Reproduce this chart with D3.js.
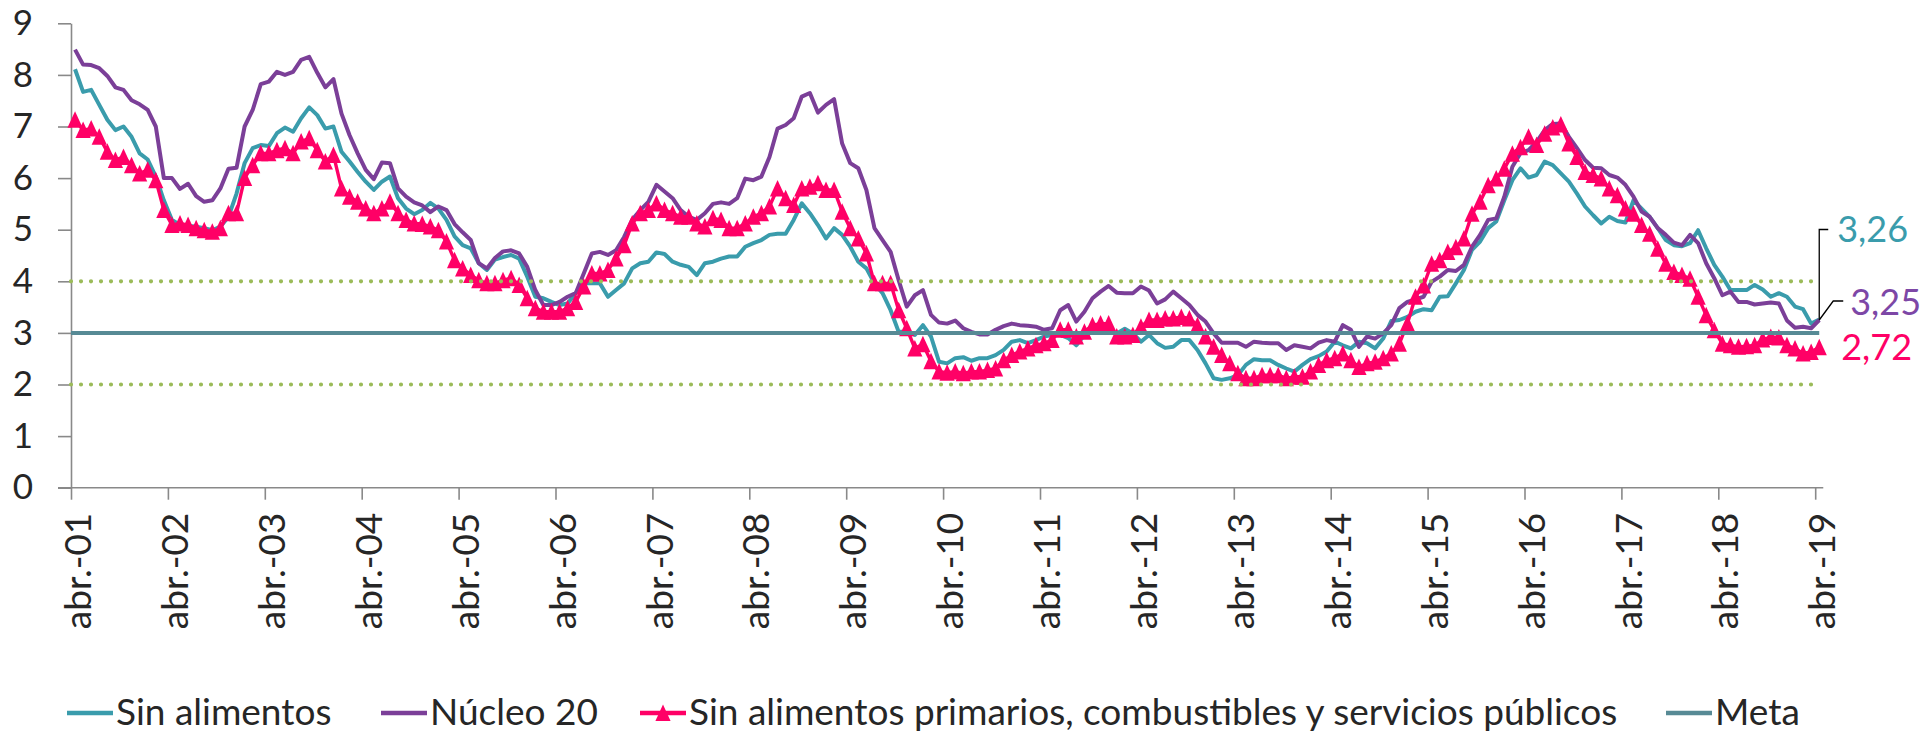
<!DOCTYPE html>
<html>
<head>
<meta charset="utf-8">
<title>inflacion basica</title>
<script src="https://cdnjs.cloudflare.com/ajax/libs/d3/7.8.5/d3.min.js"></script>
<style>
  body { margin: 0; background: #fff; }
  svg { display: block; }
</style>
</head>
<body>
<script>
// etiquetas del eje x (una cada 12 meses, abr-01 ... abr-19)
var tickLabels = ["abr.-01","abr.-02","abr.-03","abr.-04","abr.-05","abr.-06","abr.-07","abr.-08","abr.-09","abr.-10",
                  "abr.-11","abr.-12","abr.-13","abr.-14","abr.-15","abr.-16","abr.-17","abr.-18","abr.-19"]

var sinAlimentos = [
  8.11,7.67,7.71,7.42,7.13,6.93,7.00,6.80,6.48,6.36,6.03,5.57,
  5.19,5.09,5.07,5.06,5.03,4.99,5.06,5.25,5.70,6.29,6.58,6.64,
  6.62,6.87,6.98,6.90,7.16,7.37,7.22,6.96,7.00,6.51,6.32,6.12,
  5.93,5.77,5.93,6.03,5.61,5.41,5.30,5.38,5.52,5.41,5.19,4.87,
  4.70,4.64,4.35,4.22,4.42,4.47,4.51,4.44,4.09,3.70,3.67,3.60,
  3.54,3.57,3.77,3.96,3.96,3.96,3.70,3.83,3.96,4.25,4.35,4.38,
  4.56,4.53,4.38,4.32,4.28,4.12,4.35,4.38,4.44,4.48,4.48,4.67,
  4.74,4.80,4.90,4.92,4.92,5.19,5.51,5.32,5.09,4.83,5.03,4.90,
  4.67,4.38,4.25,3.96,3.77,3.44,3.02,3.02,2.96,3.15,2.93,2.44,
  2.41,2.51,2.53,2.46,2.51,2.51,2.57,2.67,2.83,2.86,2.80,2.86,
  2.93,2.96,2.96,2.90,2.76,2.96,3.06,3.06,3.02,2.99,3.08,2.99,
  2.83,2.96,2.80,2.71,2.73,2.86,2.86,2.67,2.41,2.12,2.09,2.12,
  2.18,2.38,2.49,2.47,2.47,2.38,2.31,2.25,2.38,2.49,2.55,2.64,
  2.83,2.76,2.70,2.83,2.80,2.70,2.89,3.23,3.25,3.31,3.41,3.46,
  3.44,3.70,3.71,3.96,4.22,4.61,4.77,5.03,5.16,5.57,5.96,6.19,
  6.01,6.06,6.32,6.25,6.09,5.93,5.70,5.45,5.28,5.12,5.25,5.17,
  5.14,5.57,5.41,5.25,5.03,4.80,4.70,4.68,4.74,4.99,4.64,4.32,
  4.09,3.83,3.83,3.83,3.93,3.84,3.70,3.77,3.70,3.51,3.46,3.18,
  3.26]

var nucleo20 = [
  8.49,8.20,8.19,8.13,7.98,7.76,7.71,7.51,7.43,7.32,7.00,6.00,
  6.00,5.79,5.89,5.65,5.54,5.57,5.80,6.18,6.20,7.00,7.32,7.82,
  7.87,8.06,8.00,8.06,8.29,8.35,8.04,7.76,7.92,7.25,6.83,6.48,
  6.16,5.98,6.30,6.29,5.80,5.64,5.53,5.47,5.34,5.45,5.38,5.11,
  4.95,4.80,4.35,4.25,4.45,4.58,4.60,4.54,4.28,3.83,3.54,3.54,
  3.60,3.70,3.77,4.15,4.54,4.57,4.51,4.60,4.86,5.19,5.38,5.54,
  5.87,5.74,5.61,5.38,5.25,5.19,5.32,5.50,5.53,5.50,5.61,5.99,
  5.96,6.03,6.41,6.96,7.03,7.16,7.58,7.65,7.27,7.42,7.53,6.67,
  6.29,6.19,5.77,5.03,4.80,4.57,4.02,3.51,3.73,3.83,3.35,3.20,
  3.18,3.24,3.09,3.02,2.97,2.97,3.06,3.13,3.18,3.15,3.14,3.12,
  3.06,3.09,3.44,3.54,3.22,3.41,3.67,3.80,3.91,3.78,3.77,3.77,
  3.90,3.82,3.57,3.65,3.80,3.67,3.54,3.35,3.22,2.99,2.81,2.81,
  2.81,2.73,2.83,2.81,2.80,2.80,2.67,2.76,2.73,2.70,2.81,2.86,
  2.83,3.15,3.06,2.73,2.93,2.89,2.99,3.15,3.48,3.60,3.65,3.70,
  3.99,4.09,4.22,4.20,4.32,4.67,4.90,5.19,5.22,5.64,6.22,6.48,
  6.54,6.70,6.93,7.05,7.06,6.80,6.58,6.35,6.20,6.19,6.06,6.01,
  5.87,5.64,5.35,5.25,5.03,4.90,4.75,4.70,4.90,4.74,4.35,4.06,
  3.73,3.80,3.60,3.60,3.55,3.57,3.59,3.57,3.24,3.10,3.12,3.09,
  3.25]

var sinPrimarios = [
  7.13,6.93,6.96,6.80,6.51,6.35,6.41,6.25,6.09,6.16,5.96,5.38,
  5.09,5.12,5.09,5.03,4.99,4.96,5.03,5.32,5.32,6.00,6.25,6.48,
  6.48,6.54,6.58,6.48,6.71,6.77,6.54,6.32,6.45,5.80,5.64,5.54,
  5.41,5.32,5.41,5.54,5.32,5.19,5.12,5.11,5.06,4.99,4.77,4.41,
  4.25,4.12,4.02,3.96,3.96,4.02,4.06,3.93,3.67,3.48,3.41,3.41,
  3.41,3.48,3.60,3.90,4.15,4.15,4.22,4.44,4.70,5.12,5.32,5.38,
  5.51,5.38,5.32,5.25,5.25,5.12,5.06,5.22,5.19,5.03,5.03,5.12,
  5.25,5.32,5.45,5.80,5.61,5.48,5.80,5.83,5.90,5.77,5.77,5.35,
  5.03,4.83,4.54,3.96,3.96,3.96,3.44,3.09,2.70,2.78,2.45,2.25,
  2.23,2.25,2.22,2.25,2.25,2.28,2.31,2.47,2.57,2.64,2.70,2.76,
  2.80,2.86,3.06,3.06,2.93,3.02,3.15,3.18,3.18,2.93,2.93,2.96,
  3.12,3.25,3.25,3.28,3.28,3.31,3.28,3.15,2.93,2.73,2.57,2.41,
  2.22,2.12,2.12,2.18,2.18,2.18,2.12,2.15,2.15,2.25,2.38,2.47,
  2.51,2.60,2.47,2.34,2.41,2.44,2.51,2.60,2.79,3.18,3.70,3.92,
  4.34,4.41,4.57,4.66,4.83,5.31,5.54,5.86,5.99,6.18,6.47,6.60,
  6.80,6.64,6.86,6.98,7.04,6.67,6.41,6.12,6.06,5.99,5.80,5.67,
  5.41,5.31,5.09,4.92,4.63,4.34,4.18,4.12,4.05,3.70,3.34,3.05,
  2.79,2.76,2.73,2.74,2.76,2.87,2.92,2.91,2.76,2.70,2.60,2.63,
  2.72]

var meta = 3
var rango = [2, 4]
var serieNames = ["Sin alimentos", "Núcleo 20", "Sin alimentos primarios, combustibles y servicios públicos", "Meta"]

var w = 1924
var h = 735
var colTeal = "#3a9cac", colPurple = "#7b3f98", colPink = "#ff0066", colMeta = "#578a95", colGreen = "#9bbb59"
var textCol = "#262626", axisCol = "#898989"

var svg = d3.select("body").append("svg").attr("width", w).attr("height", h)

var n = nucleo20.length
var step = 8.075
var xScale = d3.scaleLinear().domain([0, n]).range([71, 71 + n * step])
var yScale = d3.scaleLinear().domain([0, 9]).range([487.7, 23.3])

// ejes
var yAxis = d3.axisLeft(yScale).ticks(9).tickSize(13).tickSizeOuter(0).tickPadding(25)
var gy = svg.append("g").attr("transform", "translate(71,0)").call(yAxis)
gy.selectAll("path,line").attr("stroke", axisCol).attr("stroke-width", 1.6)
gy.selectAll("text").attr("font-family", "Lato, 'Open Sans', sans-serif").attr("font-size", 35).attr("fill", textCol)

var xAxis = d3.axisBottom(xScale)
    .tickValues(d3.range(0, n, 12))
    .tickSize(12)
    .tickSizeOuter(0)
    .tickFormat(function(d, i) { return tickLabels[i] })
var gx = svg.append("g").attr("transform", "translate(0," + yScale(0) + ")").call(xAxis)
gx.select(".domain").attr("d", "M" + (71 - 13) + ",0H" + xScale(n))
gx.selectAll("path,line").attr("stroke", axisCol).attr("stroke-width", 1.6)
gx.selectAll("text")
    .attr("transform", "rotate(-90)")
    .attr("text-anchor", "end")
    .attr("x", -25)
    .attr("y", 0)
    .attr("dy", "0.53em")
    .attr("font-family", "Lato, sans-serif")
    .attr("font-size", 37)
    .attr("fill", textCol)

var line = d3.line()
    .x(function(d, i) { return xScale(i + 0.5) })
    .y(function(d) { return yScale(d) })

svg.append("path").datum(sinAlimentos).attr("d", line)
    .attr("fill", "none").attr("stroke", colTeal).attr("stroke-width", 4).attr("stroke-linejoin", "round")
svg.append("path").datum(nucleo20).attr("d", line)
    .attr("fill", "none").attr("stroke", colPurple).attr("stroke-width", 4).attr("stroke-linejoin", "round")
svg.append("path").datum(sinPrimarios).attr("d", line)
    .attr("fill", "none").attr("stroke", colPink).attr("stroke-width", 3.4).attr("stroke-linejoin", "round")

var tri = "M0,-8.5L7.6,8L-7.6,8Z"
svg.selectAll(".tri")
    .data(sinPrimarios)
    .enter()
    .append("path")
    .attr("class", "tri")
    .attr("d", tri)
    .attr("transform", function(d, i) { return "translate(" + xScale(i + 0.5) + "," + yScale(d) + ")" })
    .attr("fill", colPink)

// rango meta (lineas punteadas) y meta
var flat = d3.line().x(function(d) { return xScale(d[0]) }).y(function(d) { return yScale(d[1]) })
rango.forEach(function(v) {
  svg.append("path").datum([[0, v], [n - 0.5, v]]).attr("d", flat)
    .attr("stroke", colGreen).attr("stroke-width", 4.2).attr("stroke-linecap", "round")
    .attr("stroke-dasharray", "0,10").attr("fill", "none")
})
svg.append("path").datum([[0, meta], [n - 0.5, meta]]).attr("d", flat)
    .attr("stroke", colMeta).attr("stroke-width", 4).attr("fill", "none")

// etiquetas del ultimo dato
function fmt(v) { return d3.format(".2f")(v).replace(".", ",") }
var xl = xScale(n - 0.5)
var yA = yScale(sinAlimentos[n - 1]), yN = yScale(nucleo20[n - 1]), yP = yScale(sinPrimarios[n - 1])

svg.append("path").attr("d", "M" + xl + "," + yA + "V" + (yA - 90) + "H" + (xl + 9))
    .attr("stroke", "#000").attr("stroke-width", 1.3).attr("fill", "none")
svg.append("path").attr("d", "M" + xl + "," + yN + "L" + (xl + 14) + "," + (yN - 19) + "H" + (xl + 24))
    .attr("stroke", "#000").attr("stroke-width", 1.3).attr("fill", "none")

var endLabels = [
  { t: fmt(sinAlimentos[n - 1]), x: xl + 18, y: yA - 77, c: colTeal },
  { t: fmt(nucleo20[n - 1]), x: xl + 31, y: yN - 5, c: "#7d47a6" },
  { t: fmt(sinPrimarios[n - 1]), x: xl + 22, y: yP + 13, c: colPink }
]
svg.selectAll(".endlab")
    .data(endLabels)
    .enter()
    .append("text")
    .attr("x", function(d) { return d.x })
    .attr("y", function(d) { return d.y })
    .text(function(d) { return d.t })
    .attr("fill", function(d) { return d.c })
    .attr("font-family", "Lato, sans-serif")
    .attr("font-size", 36)

// leyenda
var legX = [67, 381, 640, 1666]
var legCols = [colTeal, colPurple, colPink, colMeta]
var lg = svg.selectAll(".leg")
    .data(serieNames)
    .enter()
    .append("g")
    .attr("transform", function(d, i) { return "translate(" + legX[i] + ",713)" })
lg.append("line")
    .attr("x1", 0).attr("x2", 46).attr("y1", 0).attr("y2", 0)
    .attr("stroke", function(d, i) { return legCols[i] })
    .attr("stroke-width", 4.5)
lg.filter(function(d, i) { return i == 2 })
    .append("path").attr("d", tri).attr("transform", "translate(23,0)").attr("fill", colPink)
lg.append("text")
    .attr("x", 49)
    .attr("y", 12)
    .text(function(d) { return d })
    .attr("fill", textCol)
    .attr("font-family", "Lato, sans-serif")
    .attr("font-size", 37)
</script>
</body>
</html>
